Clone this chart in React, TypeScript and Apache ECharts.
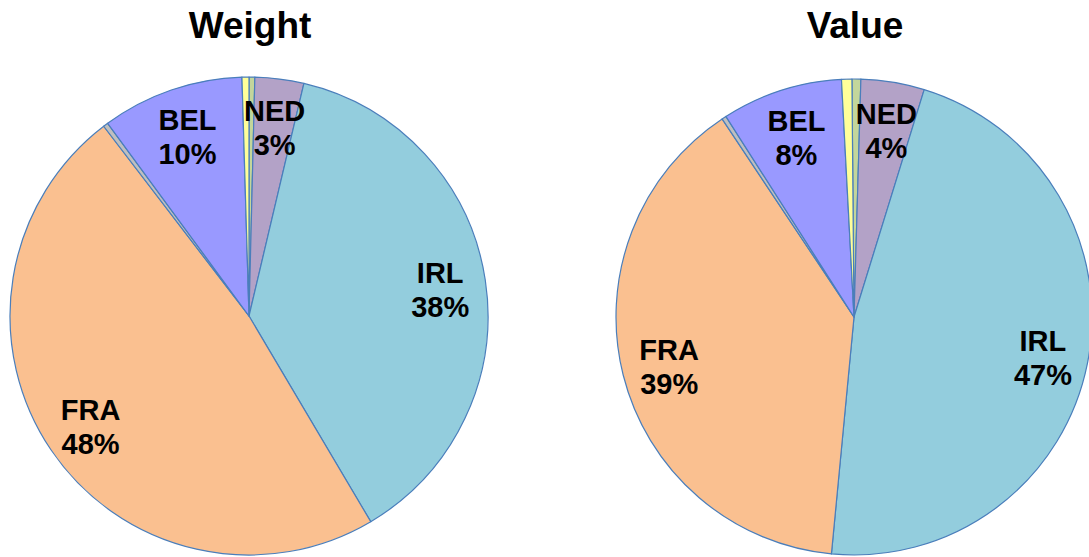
import React, { useEffect, useRef } from "react";
import * as echarts from "echarts";

const categories = ["Other 1", "NED", "IRL", "FRA", "Other 2", "BEL", "Other 3"];
const labelled = [false, true, true, true, false, true, false];
const weightValues = [0.39, 3.3, 37.8, 48.1, 0.33, 9.6, 0.47];
const valueValues = [0.6, 4.3, 46.7, 39.1, 0.3, 8.2, 0.7];
const sliceColors = ["#C3D69B", "#B3A2C7", "#93CDDD", "#FAC090", "#BFBFBF", "#9999FF", "#FFFF99"];
const titles = ["Weight", "Value"];

const FONT = "'Liberation Sans', Arial, sans-serif";

function makeData(values: number[], withLabels: boolean) {
  return categories.map((name, i) => ({
    name,
    value: values[i],
    itemStyle: { color: withLabels ? "transparent" : sliceColors[i] },
    label: { show: withLabels && labelled[i] },
  }));
}

function pieSeries(values: number[], cx: number, cy: number, r: number, startAngle: number) {
  return [
    {
      type: "pie",
      center: [cx, cy],
      radius: r,
      startAngle,
      clockwise: true,
      data: makeData(values, false),
      label: { show: false },
      labelLine: { show: false },
      itemStyle: { borderColor: "#4A7EBB", borderWidth: 1.2 },
      emphasis: { disabled: true },
      silent: true,
    },
    {
      type: "pie",
      center: [cx + 1, cy + 3],
      radius: [r * 0.585, r],
      startAngle,
      clockwise: true,
      data: makeData(values, true),
      itemStyle: { borderWidth: 0 },
      label: {
        position: "inside",
        color: "#000",
        fontFamily: FONT,
        fontWeight: "bold",
        fontSize: 29,
        lineHeight: 34,
        align: "center",
        formatter: (p: any) => `${p.name}\n${Math.round(p.percent)}%`,
      },
      labelLine: { show: false },
      emphasis: { disabled: true },
      silent: true,
    },
  ];
}

export default function App() {
  const ref = useRef<HTMLDivElement>(null);
  useEffect(() => {
    if (!ref.current) return;
    const chart = echarts.init(ref.current, undefined, { renderer: "svg" });
    chart.setOption({
      animation: false,
      backgroundColor: "#ffffff",
      title: [
        {
          text: titles[0],
          left: 250,
          top: 7,
          padding: 0,
          textAlign: "center",
          textStyle: { fontFamily: FONT, fontWeight: "bold", fontSize: 37, color: "#000" },
        },
        {
          text: titles[1],
          left: 855,
          top: 7,
          padding: 0,
          textAlign: "center",
          textStyle: { fontFamily: FONT, fontWeight: "bold", fontSize: 37, color: "#000" },
        },
      ],
      series: [
        ...pieSeries(weightValues, 249, 316, 239, 90),
        ...pieSeries(valueValues, 854, 317, 238, 90.5),
      ],
    });
    return () => chart.dispose();
  }, []);
  return (
    <div
      ref={ref}
      style={{ position: "fixed", left: 0, top: 0, width: 1089, height: 557 }}
    />
  );
}
